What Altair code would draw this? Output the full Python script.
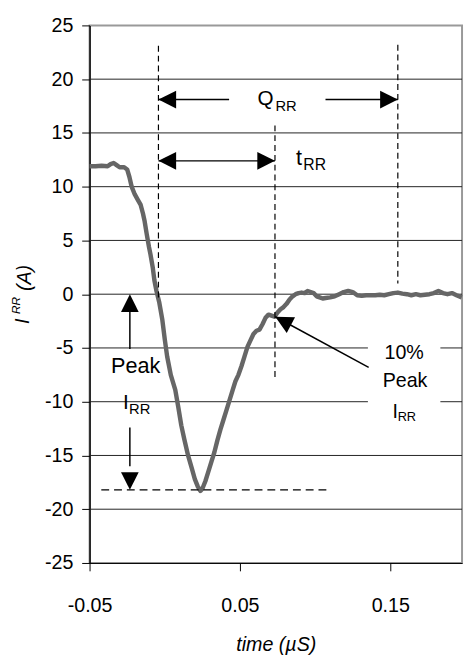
import altair as alt
import pandas as pd

# ---- curve data (time in µs, current in A) ----
time_us = [-0.050, -0.046, -0.042, -0.038, -0.036, -0.034, -0.032, -0.030, -0.027, -0.025,
           -0.0235, -0.022, -0.020, -0.018, -0.016, -0.0145, -0.0134, -0.012, -0.0105, -0.0095,
           -0.008, -0.0069, -0.0055, -0.0036, -0.0016, 0.0000, 0.0016, 0.004, 0.007, 0.009,
           0.011, 0.013, 0.0155, 0.018, 0.020, 0.022, 0.0237, 0.025, 0.027, 0.029,
           0.031, 0.033, 0.035, 0.037, 0.039, 0.041, 0.043, 0.045, 0.047, 0.049,
           0.051, 0.053, 0.055, 0.057, 0.059, 0.061, 0.063, 0.065, 0.067, 0.069,
           0.071, 0.073, 0.075, 0.077, 0.079, 0.081, 0.083, 0.085, 0.087, 0.089,
           0.091, 0.093, 0.095, 0.097, 0.099, 0.101, 0.103, 0.105, 0.107, 0.110,
           0.113, 0.116, 0.119, 0.122, 0.125, 0.128, 0.131, 0.134, 0.137, 0.140,
           0.143, 0.146, 0.149, 0.152, 0.155, 0.158, 0.161, 0.164, 0.167, 0.170,
           0.173, 0.176, 0.179, 0.182, 0.185, 0.188, 0.191, 0.194, 0.1975]
irr_a = [11.9, 11.9, 11.95, 11.9, 12.1, 12.2, 12.0, 11.8, 11.8, 11.6,
         10.9, 10.0, 9.3, 8.8, 8.3, 7.5, 6.8, 5.6, 4.4, 3.7,
         2.5, 1.3, 0.3, -0.8, -2.4, -4.2, -5.8, -7.5, -8.9, -10.5,
         -12.2, -13.5, -15.0, -16.2, -17.2, -17.9, -18.3, -18.1, -17.4, -16.5,
         -15.6, -14.7, -13.6, -12.6, -11.7, -10.8, -9.9, -9.0, -8.1, -7.5,
         -6.7, -5.8, -4.9, -4.3, -3.7, -3.4, -3.3, -2.8, -2.2, -1.9,
         -2.0, -2.1, -1.7, -1.4, -1.2, -0.9, -0.5, -0.2, 0.0, 0.1,
         0.15, 0.1, 0.3, 0.2, 0.1, -0.2, -0.3, -0.4, -0.35, -0.3,
         -0.2, 0.0, 0.2, 0.3, 0.2, -0.1, -0.15, -0.1, -0.1, -0.1,
         -0.05, -0.1, 0.0, 0.1, 0.15, 0.05, 0.0, -0.1, 0.0, -0.1,
         -0.05, 0.0, 0.1, 0.3, 0.1, 0.0, 0.1, -0.1, -0.3]

# ---- axes ----
x_ticks = [-0.05, 0.05, 0.15]
y_ticks = [-25, -20, -15, -10, -5, 0, 5, 10, 15, 20, 25]
grid_values = [-20, -15, -10, -5, 0, 5, 10, 15, 20]
x_domain = [-0.05, 0.1977]
y_domain = [-25, 25]

# ---- dashed marker lines ----
vline_x = [-0.0042, 0.0733, 0.155]
vline_top = [23.1, 15.7, 23.2]
vline_bottom = [-0.3, -8.0, 1.0]
peak_level = [-18.2]
peak_line_start = [-0.0422]
peak_line_end = [0.1082]

# ---- arrow shafts ----
shaft_x1 = [-0.0042, 0.1069, -0.0042, -0.0232, -0.0232, 0.1356]
shaft_y1 = [18.1, 18.1, 12.4, -1.0, -12.4, -6.8]
shaft_x2 = [0.0428, 0.155, 0.0733, -0.0232, -0.0232, 0.0735]
shaft_y2 = [18.1, 18.1, 12.4, -5.1, -16.0, -2.1]

# ---- arrow heads (tip position, direction) ----
head_x = [-0.0042, 0.155, -0.0042, 0.0733, -0.0232, -0.0232, 0.0735]
head_y = [18.1, 18.1, 12.4, 12.4, 0.0, -18.2, -2.1]
head_angle = [270, 90, 270, 90, 0, 180, 298]

# ---- annotation texts ----
ann_text = ["Q", "RR", "t", "RR", "Peak", "I", "RR", "10%", "Peak", "I", "RR"]
ann_x = [0.067, 0.0807, 0.0892, 0.0997, -0.0193, -0.0258, -0.0167, 0.1592, 0.1598, 0.1532, 0.1610]
ann_y = [18.1, 17.5, 12.7, 12.0, -6.7, -10.1, -10.7, -5.5, -8.1, -11.0, -11.4]
ann_size = [21, 15, 22, 16, 22, 21, 15, 20, 20, 20, 13]

# white box behind right label
box_x = [0.1351]
box_x2 = [0.1833]
box_y = [-3.5]
box_y2 = [-12.0]

FONT = "Liberation Sans"
MINUS_FIX = "replace(datum.label, '\u2212', '-')"

xs = alt.Scale(domain=x_domain, nice=False, zero=False)
ys = alt.Scale(domain=y_domain, nice=False, zero=False)

curve_df = pd.DataFrame({"t": time_us, "i": irr_a})

base_x = alt.X("t:Q", scale=xs,
               axis=alt.Axis(values=x_ticks, format=".2f", labelExpr=MINUS_FIX, title="time (µS)", grid=False,
                             tickSize=8, labelPadding=25, labelFontSize=20, labelFont=FONT,
                             labelColor="black", tickColor="black", domainColor="black",
                             titleFont=FONT, titleFontSize=20, titleFontStyle="italic",
                             titleFontWeight="normal", titleColor="black", titlePadding=20,
                             labelFlush=False))
base_y = alt.Y("i:Q", scale=ys,
               axis=alt.Axis(values=y_ticks, format="d", labelExpr=MINUS_FIX, title=None, grid=False,
                             tickSize=8, labelPadding=9, labelFontSize=20, labelFont=FONT,
                             labelColor="black", tickColor="black", domainColor="black",
                             domainWidth=1.5, labelFlush=False))

grid = alt.Chart(pd.DataFrame({"g": grid_values})).mark_rule(color="#222", strokeWidth=1).encode(
    y=alt.Y("g:Q", scale=ys))

box = alt.Chart(pd.DataFrame({"x": box_x, "x2": box_x2, "y": box_y, "y2": box_y2})).mark_rect(
    color="white").encode(x=alt.X("x:Q", scale=xs), x2="x2:Q", y=alt.Y("y:Q", scale=ys), y2="y2:Q")

curve = alt.Chart(curve_df).mark_line(color="#666666", strokeWidth=4.5, strokeJoin="round").encode(
    x=base_x, y=base_y)

vlines = alt.Chart(pd.DataFrame({"x": vline_x, "y": vline_top, "y2": vline_bottom})).mark_rule(
    color="black", strokeWidth=1.2, strokeDash=[6, 4]).encode(
    x=alt.X("x:Q", scale=xs), y=alt.Y("y:Q", scale=ys), y2="y2:Q")

hline = alt.Chart(pd.DataFrame({"x": peak_line_start, "x2": peak_line_end, "y": peak_level})).mark_rule(
    color="black", strokeWidth=1.5, strokeDash=[8, 5]).encode(
    x=alt.X("x:Q", scale=xs), x2="x2:Q", y=alt.Y("y:Q", scale=ys))

shafts = alt.Chart(pd.DataFrame({"x": shaft_x1, "y": shaft_y1, "x2": shaft_x2, "y2": shaft_y2})).mark_rule(
    color="black", strokeWidth=1.5).encode(
    x=alt.X("x:Q", scale=xs), y=alt.Y("y:Q", scale=ys), x2="x2:Q", y2="y2:Q")

heads = alt.Chart(pd.DataFrame({"x": head_x, "y": head_y, "a": head_angle})).mark_point(
    shape="M0,0L-0.5,1L0.5,1Z", filled=True, color="black", opacity=1, size=1296, strokeWidth=0).encode(
    x=alt.X("x:Q", scale=xs), y=alt.Y("y:Q", scale=ys),
    angle=alt.Angle("a:Q", scale=None))

texts = alt.Chart(pd.DataFrame({"x": ann_x, "y": ann_y, "s": ann_text, "fs": ann_size})).mark_text(
    font=FONT, color="black", align="center", baseline="middle").encode(
    x=alt.X("x:Q", scale=xs), y=alt.Y("y:Q", scale=ys), text="s:N",
    size=alt.Size("fs:Q", scale=None, legend=None))

# rotated y-axis title  I_RR(A)
ytitle_text = ["I", "RR", "(A)"]
ytitle_size = [20, 12, 20]
ytitle_df = pd.DataFrame({"s": ytitle_text, "fs": ytitle_size, "px": [-68, -74.5, -66], "py": [301, 285, 257]})
ytitle = alt.Chart(ytitle_df).mark_text(
    font=FONT, fontStyle="italic", color="black", angle=270, align="center", baseline="middle").encode(
    x=alt.X("px:Q", scale=None), y=alt.Y("py:Q", scale=None), text="s:N",
    size=alt.Size("fs:Q", scale=None, legend=None))

chart = alt.layer(grid, box, curve, vlines, hline, shafts, heads, texts, ytitle).properties(
    width=379, height=547,
    autosize=alt.AutoSizeParams(type="none"),
    padding={"left": 83, "top": 12, "right": 2, "bottom": 92},
).configure_view(stroke="#999999", strokeWidth=2)

chart.save("out.html", embed_options={"renderer": "svg", "actions": False})
